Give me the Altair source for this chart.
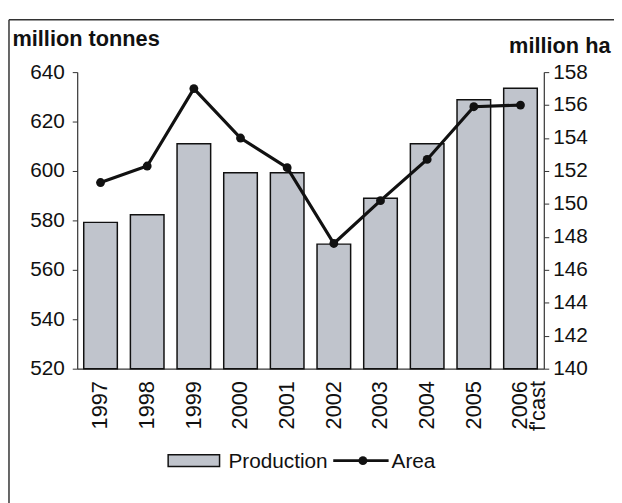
import altair as alt
import pandas as pd

years = ["1997", "1998", "1999", "2000", "2001", "2002", "2003", "2004", "2005", "2006 f'cast"]
production = [579.2, 582.3, 611.0, 599.3, 599.3, 570.4, 589.0, 611.0, 628.8, 633.5]
area = [151.3, 152.3, 157.0, 154.0, 152.2, 147.6, 150.2, 152.7, 155.9, 156.0]
left_ticks = [520, 540, 560, 580, 600, 620, 640]
right_ticks = [140, 142, 144, 146, 148, 150, 152, 154, 156, 158]
legend_labels = ["Production", "Area"]

FONT = "Liberation Sans"
INK = "#111111"
BAR = "#c0c4cc"

df = pd.DataFrame({"year": years, "production": production, "area": area})
one = pd.DataFrame({"k": [0]})

xenc = alt.X(
    "year:N", sort=years,
    scale=alt.Scale(paddingInner=0.28, paddingOuter=0.14),
    axis=alt.Axis(title=None, labelAngle=-90, ticks=False, labelPadding=12,
                  labelFontSize=22, labelColor="#111", labelExpr="split(datum.value, ' ')",
                  labelLineHeight=18, domainColor="#333", domainWidth=1.2),
)

bars = alt.Chart(df).mark_bar(fill=BAR, stroke=INK, strokeWidth=1.5).encode(
    x=xenc,
    y=alt.Y("production:Q",
            scale=alt.Scale(domain=[520, 640], nice=False, zero=False),
            axis=alt.Axis(values=left_ticks, grid=False, tickSize=5, labelPadding=8,
                          labelFontSize=21, labelColor="#111", domainColor="#333",
                          tickColor="#333", domainWidth=1.2,
                          title="million tonnes", titleAngle=0, titleAlign="left",
                          titleBaseline="alphabetic", titleX=-66, titleY=-27,
                          titleFontSize=22, titleFontWeight="bold", titleColor="#111")),
    y2=alt.datum(520),
)

line = alt.Chart(df).mark_line(color=INK, strokeWidth=3.2,
                               point=alt.OverlayMarkDef(filled=True, size=80, color=INK, opacity=1)).encode(
    x=alt.X("year:N", sort=years),
    y=alt.Y("area:Q",
            scale=alt.Scale(domain=[140, 158], nice=False, zero=False),
            axis=alt.Axis(orient="right", values=right_ticks, grid=False, tickSize=5, labelPadding=4,
                          labelFontSize=21, labelColor="#111", domainColor="#333",
                          tickColor="#333", domainWidth=1.2,
                          title="million ha", titleAngle=0, titleAlign="right",
                          titleBaseline="alphabetic", titleX=67, titleY=-20,
                          titleFontSize=22, titleFontWeight="bold", titleColor="#111")),
)

frame_top = alt.Chart(one).mark_rule(color="#333", strokeWidth=1.5).encode(
    x=alt.value(-69), x2=alt.value(545), y=alt.value(-53))
frame_left = alt.Chart(one).mark_rule(color="#333", strokeWidth=1.5).encode(
    x=alt.value(-69), y=alt.value(-53), y2=alt.value(440))

leg_sw = alt.Chart(one).mark_rect(fill=BAR, stroke=INK, strokeWidth=1.5).encode(
    x=alt.value(92), x2=alt.value(144), y=alt.value(387), y2=alt.value(399))
leg_t1 = alt.Chart(pd.DataFrame({"t": [legend_labels[0]]})).mark_text(
    align="left", baseline="middle", fontSize=21, color="#111", font=FONT).encode(
    x=alt.value(153), y=alt.value(394), text="t:N")
leg_ln = alt.Chart(one).mark_rule(color=INK, strokeWidth=3).encode(
    x=alt.value(259), x2=alt.value(315), y=alt.value(393))
leg_pt = alt.Chart(one).mark_point(filled=True, size=80, color=INK, opacity=1).encode(
    x=alt.value(289), y=alt.value(393))
leg_t2 = alt.Chart(pd.DataFrame({"t": [legend_labels[1]]})).mark_text(
    align="left", baseline="middle", fontSize=21, color="#111", font=FONT).encode(
    x=alt.value(318), y=alt.value(394), text="t:N")

chart = alt.layer(bars, line, frame_top, frame_left, leg_sw, leg_t1, leg_ln, leg_pt, leg_t2).resolve_scale(
    y="independent"
).properties(
    width=472, height=300,
    padding={"left": 70, "top": 62, "right": 71, "bottom": 133},
    autosize=alt.AutoSizeParams(type="none"),
).configure(font=FONT).configure_view(stroke=None)

chart.save("out.html", embed_options={"renderer": "svg", "actions": False})
